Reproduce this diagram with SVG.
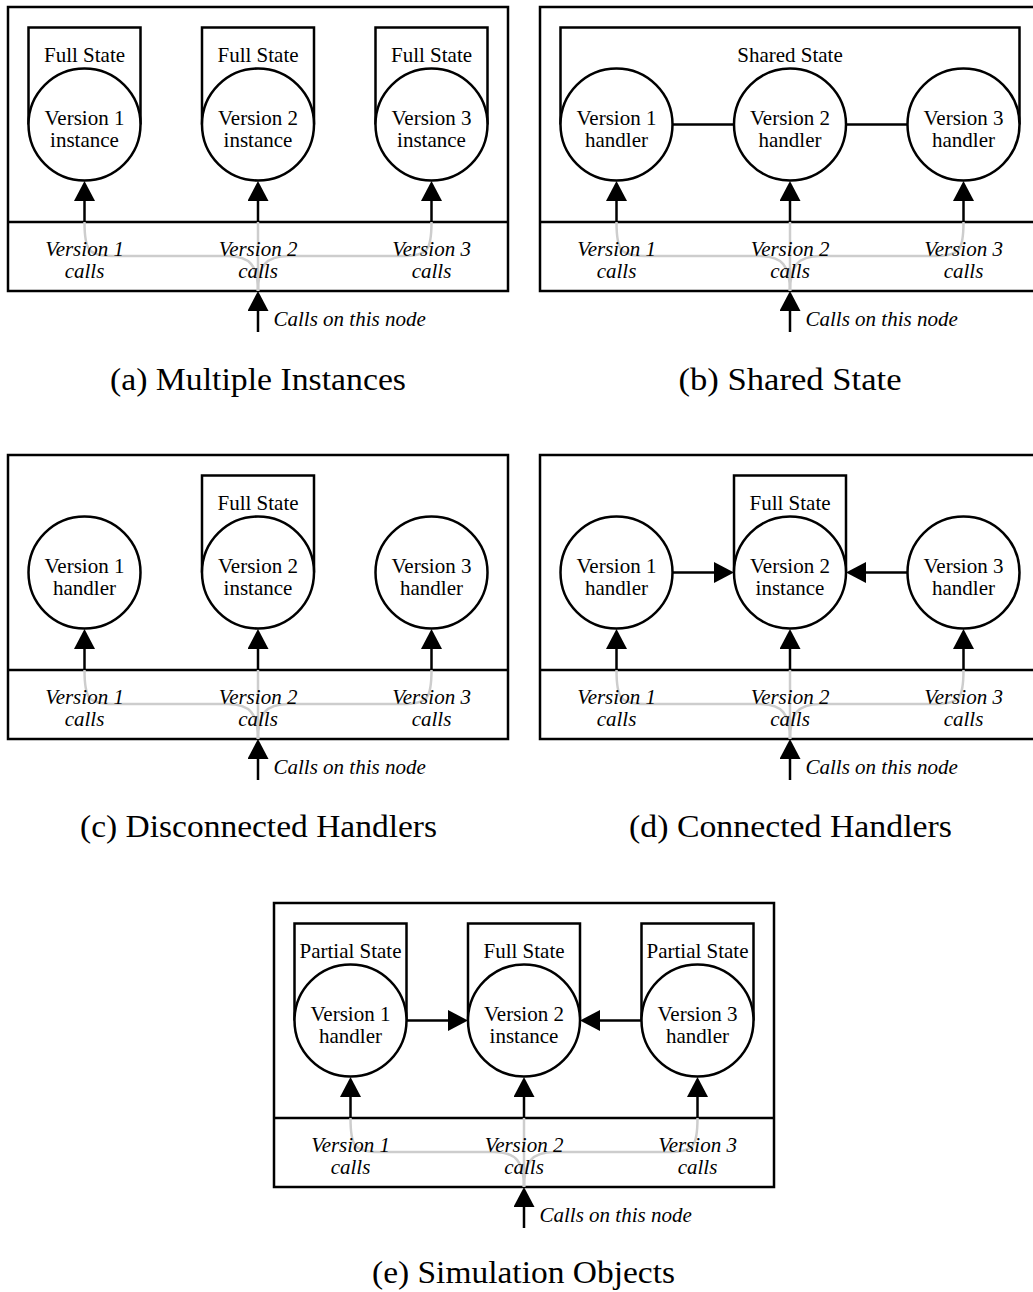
<svg xmlns="http://www.w3.org/2000/svg" width="1033" height="1292" viewBox="0 0 1033 1292" font-family="'Liberation Serif', 'DejaVu Serif', serif">
<style>
.box{fill:none;stroke:#000;stroke-width:2.5}
.node{fill:#fff;stroke:#000;stroke-width:2.5}
.st{fill:none;stroke:#000;stroke-width:2.5}
.call{fill:none;stroke:#cdcdcd;stroke-width:2.5}
.edge{fill:none;stroke:#000;stroke-width:2.5}
text{font-family:'Liberation Serif','DejaVu Serif',serif}
.t{font-size:21px;text-anchor:middle;fill:#000}
.i{font-style:italic}
.s{text-anchor:start}
.cap{font-size:31px;text-anchor:middle;fill:#000}
</style>
<defs>
<marker id="arr" viewBox="0 0 20 21" refX="0" refY="10.5" markerWidth="20" markerHeight="21" markerUnits="userSpaceOnUse" orient="auto">
<path d="M0,0 L20,10.5 L0,21 z" fill="#000"/>
</marker>
</defs>
<rect width="1033" height="1292" fill="#fff"/>

<!-- Panel (a) -->
<g id="panel-a">
 <g id="a-frame"><rect class="box" x="8" y="7" width="500" height="284"/><line class="box" x1="8" y1="222" x2="508" y2="222"/></g>
 <g id="a-connectors">
  <path class="call" d="M84.5,222 C84.5,250 88,256 112,256 H228 C250,256 258,266 258,291"/>
  <path class="call" d="M258,222 V291"/>
  <path class="call" d="M431.5,222 C431.5,250 428,256 404,256 H288 C266,256 258,266 258,291"/>
  <line class="edge" x1="84.5" y1="222" x2="84.5" y2="201" marker-end="url(#arr)"/>
  <line class="edge" x1="258" y1="222" x2="258" y2="201" marker-end="url(#arr)"/>
  <line class="edge" x1="431.5" y1="222" x2="431.5" y2="201" marker-end="url(#arr)"/>
  <line class="edge" x1="258" y1="332" x2="258" y2="311" marker-end="url(#arr)"/>
 </g>
 <g id="a-labels">
  <text class="t i" x="84.5" y="256">Version 1</text><text class="t i" x="84.5" y="278">calls</text>
  <text class="t i" x="258" y="256">Version 2</text><text class="t i" x="258" y="278">calls</text>
  <text class="t i" x="431.5" y="256">Version 3</text><text class="t i" x="431.5" y="278">calls</text>
  <text class="t i s" x="273.5" y="325.5">Calls on this node</text>
 </g>
 <g id="a-v1"><path class="st" d="M28.5,124.5 V27.5 H140.5 V124.5"/><text class="t" x="84.5" y="62">Full State</text><circle class="node" cx="84.5" cy="124.5" r="56"/><text class="t" x="84.5" y="125">Version 1</text><text class="t" x="84.5" y="147">instance</text></g>
 <g id="a-v2"><path class="st" d="M202,124.5 V27.5 H314 V124.5"/><text class="t" x="258" y="62">Full State</text><circle class="node" cx="258" cy="124.5" r="56"/><text class="t" x="258" y="125">Version 2</text><text class="t" x="258" y="147">instance</text></g>
 <g id="a-v3"><path class="st" d="M375.5,124.5 V27.5 H487.5 V124.5"/><text class="t" x="431.5" y="62">Full State</text><circle class="node" cx="431.5" cy="124.5" r="56"/><text class="t" x="431.5" y="125">Version 3</text><text class="t" x="431.5" y="147">instance</text></g>
 <text class="cap" x="258" y="390" textLength="296" lengthAdjust="spacingAndGlyphs">(a) Multiple Instances</text>
</g>

<!-- Panel (b) -->
<g id="panel-b" transform="translate(532,0)">
 <g id="b-frame"><rect class="box" x="8" y="7" width="500" height="284"/><line class="box" x1="8" y1="222" x2="508" y2="222"/></g>
 <g id="b-connectors">
  <path class="call" d="M84.5,222 C84.5,250 88,256 112,256 H228 C250,256 258,266 258,291"/>
  <path class="call" d="M258,222 V291"/>
  <path class="call" d="M431.5,222 C431.5,250 428,256 404,256 H288 C266,256 258,266 258,291"/>
  <line class="edge" x1="84.5" y1="222" x2="84.5" y2="201" marker-end="url(#arr)"/>
  <line class="edge" x1="258" y1="222" x2="258" y2="201" marker-end="url(#arr)"/>
  <line class="edge" x1="431.5" y1="222" x2="431.5" y2="201" marker-end="url(#arr)"/>
  <line class="edge" x1="258" y1="332" x2="258" y2="311" marker-end="url(#arr)"/>
  <line class="edge" x1="140.5" y1="124.5" x2="202" y2="124.5"/>
  <line class="edge" x1="314" y1="124.5" x2="375.5" y2="124.5"/>
 </g>
 <g id="b-labels">
  <text class="t i" x="84.5" y="256">Version 1</text><text class="t i" x="84.5" y="278">calls</text>
  <text class="t i" x="258" y="256">Version 2</text><text class="t i" x="258" y="278">calls</text>
  <text class="t i" x="431.5" y="256">Version 3</text><text class="t i" x="431.5" y="278">calls</text>
  <text class="t i s" x="273.5" y="325.5">Calls on this node</text>
 </g>
 <g id="b-state"><path class="st" d="M28.5,124.5 V27.5 H487.5 V124.5"/><text class="t" x="258" y="62">Shared State</text></g>
 <g id="b-v1"><circle class="node" cx="84.5" cy="124.5" r="56"/><text class="t" x="84.5" y="125">Version 1</text><text class="t" x="84.5" y="147">handler</text></g>
 <g id="b-v2"><circle class="node" cx="258" cy="124.5" r="56"/><text class="t" x="258" y="125">Version 2</text><text class="t" x="258" y="147">handler</text></g>
 <g id="b-v3"><circle class="node" cx="431.5" cy="124.5" r="56"/><text class="t" x="431.5" y="125">Version 3</text><text class="t" x="431.5" y="147">handler</text></g>
 <text class="cap" x="258" y="390" textLength="223" lengthAdjust="spacingAndGlyphs">(b) Shared State</text>
</g>

<!-- Panel (c) -->
<g id="panel-c" transform="translate(0,448)">
 <g id="c-frame"><rect class="box" x="8" y="7" width="500" height="284"/><line class="box" x1="8" y1="222" x2="508" y2="222"/></g>
 <g id="c-connectors">
  <path class="call" d="M84.5,222 C84.5,250 88,256 112,256 H228 C250,256 258,266 258,291"/>
  <path class="call" d="M258,222 V291"/>
  <path class="call" d="M431.5,222 C431.5,250 428,256 404,256 H288 C266,256 258,266 258,291"/>
  <line class="edge" x1="84.5" y1="222" x2="84.5" y2="201" marker-end="url(#arr)"/>
  <line class="edge" x1="258" y1="222" x2="258" y2="201" marker-end="url(#arr)"/>
  <line class="edge" x1="431.5" y1="222" x2="431.5" y2="201" marker-end="url(#arr)"/>
  <line class="edge" x1="258" y1="332" x2="258" y2="311" marker-end="url(#arr)"/>
 </g>
 <g id="c-labels">
  <text class="t i" x="84.5" y="256">Version 1</text><text class="t i" x="84.5" y="278">calls</text>
  <text class="t i" x="258" y="256">Version 2</text><text class="t i" x="258" y="278">calls</text>
  <text class="t i" x="431.5" y="256">Version 3</text><text class="t i" x="431.5" y="278">calls</text>
  <text class="t i s" x="273.5" y="325.5">Calls on this node</text>
 </g>
 <g id="c-v1"><circle class="node" cx="84.5" cy="124.5" r="56"/><text class="t" x="84.5" y="125">Version 1</text><text class="t" x="84.5" y="147">handler</text></g>
 <g id="c-v2"><path class="st" d="M202,124.5 V27.5 H314 V124.5"/><text class="t" x="258" y="62">Full State</text><circle class="node" cx="258" cy="124.5" r="56"/><text class="t" x="258" y="125">Version 2</text><text class="t" x="258" y="147">instance</text></g>
 <g id="c-v3"><circle class="node" cx="431.5" cy="124.5" r="56"/><text class="t" x="431.5" y="125">Version 3</text><text class="t" x="431.5" y="147">handler</text></g>
 <text class="cap" x="258.5" y="389" textLength="357" lengthAdjust="spacingAndGlyphs">(c) Disconnected Handlers</text>
</g>

<!-- Panel (d) -->
<g id="panel-d" transform="translate(532,448)">
 <g id="d-frame"><rect class="box" x="8" y="7" width="500" height="284"/><line class="box" x1="8" y1="222" x2="508" y2="222"/></g>
 <g id="d-connectors">
  <path class="call" d="M84.5,222 C84.5,250 88,256 112,256 H228 C250,256 258,266 258,291"/>
  <path class="call" d="M258,222 V291"/>
  <path class="call" d="M431.5,222 C431.5,250 428,256 404,256 H288 C266,256 258,266 258,291"/>
  <line class="edge" x1="84.5" y1="222" x2="84.5" y2="201" marker-end="url(#arr)"/>
  <line class="edge" x1="258" y1="222" x2="258" y2="201" marker-end="url(#arr)"/>
  <line class="edge" x1="431.5" y1="222" x2="431.5" y2="201" marker-end="url(#arr)"/>
  <line class="edge" x1="258" y1="332" x2="258" y2="311" marker-end="url(#arr)"/>
  <line class="edge" x1="140.5" y1="124.5" x2="182" y2="124.5" marker-end="url(#arr)"/>
  <line class="edge" x1="375.5" y1="124.5" x2="334" y2="124.5" marker-end="url(#arr)"/>
 </g>
 <g id="d-labels">
  <text class="t i" x="84.5" y="256">Version 1</text><text class="t i" x="84.5" y="278">calls</text>
  <text class="t i" x="258" y="256">Version 2</text><text class="t i" x="258" y="278">calls</text>
  <text class="t i" x="431.5" y="256">Version 3</text><text class="t i" x="431.5" y="278">calls</text>
  <text class="t i s" x="273.5" y="325.5">Calls on this node</text>
 </g>
 <g id="d-v1"><circle class="node" cx="84.5" cy="124.5" r="56"/><text class="t" x="84.5" y="125">Version 1</text><text class="t" x="84.5" y="147">handler</text></g>
 <g id="d-v2"><path class="st" d="M202,124.5 V27.5 H314 V124.5"/><text class="t" x="258" y="62">Full State</text><circle class="node" cx="258" cy="124.5" r="56"/><text class="t" x="258" y="125">Version 2</text><text class="t" x="258" y="147">instance</text></g>
 <g id="d-v3"><circle class="node" cx="431.5" cy="124.5" r="56"/><text class="t" x="431.5" y="125">Version 3</text><text class="t" x="431.5" y="147">handler</text></g>
 <text class="cap" x="258.5" y="389" textLength="323" lengthAdjust="spacingAndGlyphs">(d) Connected Handlers</text>
</g>

<!-- Panel (e) -->
<g id="panel-e" transform="translate(266,896)">
 <g id="e-frame"><rect class="box" x="8" y="7" width="500" height="284"/><line class="box" x1="8" y1="222" x2="508" y2="222"/></g>
 <g id="e-connectors">
  <path class="call" d="M84.5,222 C84.5,250 88,256 112,256 H228 C250,256 258,266 258,291"/>
  <path class="call" d="M258,222 V291"/>
  <path class="call" d="M431.5,222 C431.5,250 428,256 404,256 H288 C266,256 258,266 258,291"/>
  <line class="edge" x1="84.5" y1="222" x2="84.5" y2="201" marker-end="url(#arr)"/>
  <line class="edge" x1="258" y1="222" x2="258" y2="201" marker-end="url(#arr)"/>
  <line class="edge" x1="431.5" y1="222" x2="431.5" y2="201" marker-end="url(#arr)"/>
  <line class="edge" x1="258" y1="332" x2="258" y2="311" marker-end="url(#arr)"/>
  <line class="edge" x1="140.5" y1="124.5" x2="182" y2="124.5" marker-end="url(#arr)"/>
  <line class="edge" x1="375.5" y1="124.5" x2="334" y2="124.5" marker-end="url(#arr)"/>
 </g>
 <g id="e-labels">
  <text class="t i" x="84.5" y="256">Version 1</text><text class="t i" x="84.5" y="278">calls</text>
  <text class="t i" x="258" y="256">Version 2</text><text class="t i" x="258" y="278">calls</text>
  <text class="t i" x="431.5" y="256">Version 3</text><text class="t i" x="431.5" y="278">calls</text>
  <text class="t i s" x="273.5" y="325.5">Calls on this node</text>
 </g>
 <g id="e-v1"><path class="st" d="M28.5,124.5 V27.5 H140.5 V124.5"/><text class="t" x="84.5" y="62">Partial State</text><circle class="node" cx="84.5" cy="124.5" r="56"/><text class="t" x="84.5" y="125">Version 1</text><text class="t" x="84.5" y="147">handler</text></g>
 <g id="e-v2"><path class="st" d="M202,124.5 V27.5 H314 V124.5"/><text class="t" x="258" y="62">Full State</text><circle class="node" cx="258" cy="124.5" r="56"/><text class="t" x="258" y="125">Version 2</text><text class="t" x="258" y="147">instance</text></g>
 <g id="e-v3"><path class="st" d="M375.5,124.5 V27.5 H487.5 V124.5"/><text class="t" x="431.5" y="62">Partial State</text><circle class="node" cx="431.5" cy="124.5" r="56"/><text class="t" x="431.5" y="125">Version 3</text><text class="t" x="431.5" y="147">handler</text></g>
 <text class="cap" x="257.5" y="387" textLength="303" lengthAdjust="spacingAndGlyphs">(e) Simulation Objects</text>
</g>
</svg>
